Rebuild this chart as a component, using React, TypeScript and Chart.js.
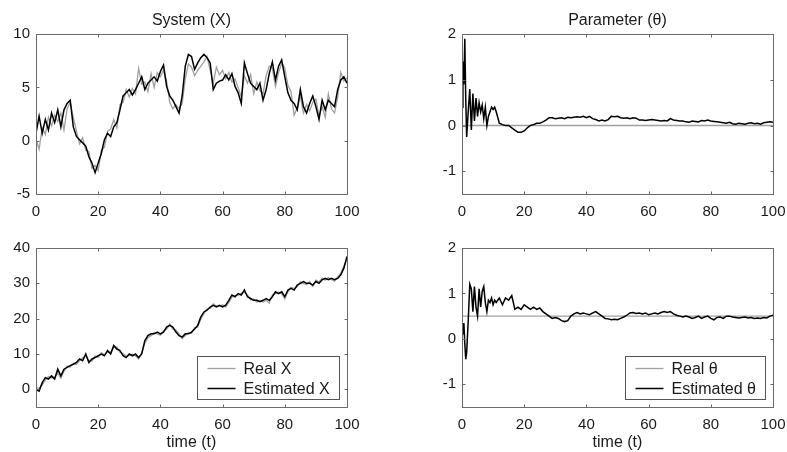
import React, { useEffect, useRef } from 'react';
import { Chart, registerables } from 'chart.js';

Chart.register(...registerables);

const FONT = "'Liberation Sans', Arial, Helvetica, sans-serif";
const TEXT = '#1a1a1a';
const REAL_COLOR = '#a0a0a0';
const EST_COLOR = '#000000';

// time axes
const timeX = Array.from({ length: 101 }, (_, i) => i);
const timeTheta = [
  0, 0.3, 0.6, 0.9, 1.2, 1.5, 2, 2.5, 3, 3.5, 4, 4.5, 5, 5.5, 6, 6.5, 7, 7.5, 8, 8.5, 9, 9.5, 10, 10.5, 11,
  ...Array.from({ length: 89 }, (_, i) => i + 12),
];
const timeRealTheta = [0, 100];

// System (X), top panel
const realX1 = [
  0.2, -0.8, 1.2, 0.6, 2.2, 1.4, 2.4, 1.8, 2.6, 1.0,
  3.0, 3.6, 2.2, 0.9, -0.3, 0.3, -0.9, -1.0, -2.6, -2.3,
  -2.8, -0.9, -0.6, 0.9, 1.1, 2.0, 1.2, 3.4, 3.6, 4.8,
  4.1, 4.9, 4.4, 6.8, 5.3, 5.5, 4.6, 6.3, 5.0, 6.4,
  6.0, 6.6, 5.6, 3.6, 3.0, 3.4, 3.0, 3.5, 5.8, 7.2,
  6.9, 6.1, 6.6, 7.0, 7.4, 7.9, 6.6, 5.4, 6.9, 6.2,
  6.6, 5.8, 6.4, 5.5, 5.8, 5.0, 4.1, 6.1, 5.4, 6.2,
  4.4, 5.5, 4.7, 4.4, 6.1, 7.0, 6.8, 5.1, 6.4, 7.3,
  6.8, 5.2, 4.6, 2.4, 3.1, 4.2, 2.6, 3.4, 2.8, 3.6,
  3.9, 2.3, 3.2, 2.2, 4.4, 3.0, 2.6, 4.1, 6.4, 5.6,
  5.9,
];
const estX1 = [
  0.7, 2.3, 0.7, 2.0, 1.0, 2.6, 1.7, 2.9, 1.3, 2.9,
  3.5, 3.8, 1.3, 0.4, 0.1, -0.2, -0.5, -1.5, -2.1, -3.0,
  -2.1, -1.2, 0.1, 0.7, 0.4, 1.3, 1.7, 2.9, 4.2, 4.5,
  4.8, 4.3, 4.8, 5.4, 6.0, 4.8, 5.4, 5.7, 6.0, 5.6,
  6.5, 7.1, 5.1, 4.2, 3.8, 3.2, 2.6, 4.2, 7.0, 8.1,
  7.9, 6.7, 7.3, 7.8, 8.1, 7.8, 7.3, 4.8, 5.4, 5.6,
  5.7, 6.2, 5.7, 6.3, 5.1, 4.5, 3.5, 7.3, 6.3, 5.4,
  5.1, 4.8, 5.4, 3.8, 4.8, 6.3, 7.4, 5.7, 7.0, 7.6,
  6.0, 4.5, 3.8, 3.5, 2.9, 4.8, 3.2, 2.6, 3.5, 4.2,
  3.2, 2.0, 3.8, 2.9, 3.8, 3.5, 3.2, 4.8, 5.7, 6.0,
  5.4,
];

// System (X), bottom panel
const realX2 = [
  0.5, 0.3, 1.2, 2.6, 3.6, 3.2, 3.5, 4.6, 3.2, 5.1,
  6.6, 6.3, 7.4, 7.0, 8.1, 8.9, 9.4, 8.2, 8.0, 9.4,
  9.1, 10.4, 9.8, 10.5, 10.6, 11.8, 12.0, 10.5, 10.1, 9.4,
  9.6, 9.9, 9.5, 8.6, 10.5, 13.1, 14.6, 15.2, 16.1, 15.7,
  15.3, 16.6, 17.0, 18.5, 17.1, 16.8, 15.7, 14.3, 15.2, 16.1,
  15.8, 17.5, 17.6, 19.9, 21.4, 22.8, 22.9, 24.2, 23.6, 23.4,
  23.9, 23.3, 24.6, 26.1, 26.6, 26.6, 27.2, 27.5, 26.7, 25.3,
  25.6, 24.7, 25.1, 24.7, 25.2, 24.4, 26.7, 27.1, 27.5, 27.0,
  25.6, 27.6, 28.9, 28.5, 29.0, 30.4, 30.0, 29.6, 30.5, 29.1,
  30.9, 30.4, 31.5, 30.9, 31.6, 31.0, 30.6, 31.9, 32.9, 34.9,
  37.0,
];
const estX2 = [
  0, -0.5, 1.9, 3.3, 2.9, 3.8, 2.9, 5.7, 3.8, 5.7,
  6.2, 6.7, 7.1, 7.6, 8.6, 8.1, 10, 7.6, 8.6, 9,
  9.5, 10, 9.5, 11, 10, 12.4, 11.4, 11, 9.5, 9,
  10, 9.5, 10, 9, 10, 13.8, 15.2, 15.7, 15.7, 16.2,
  15.7, 16.2, 17.6, 18.1, 17.6, 16.2, 15.2, 14.8, 15.7, 15.7,
  16.2, 17.1, 18.1, 20.5, 21.9, 22.4, 23.3, 23.8, 23.3, 23.8,
  23.3, 23.8, 25.2, 26.7, 26.2, 27.1, 26.7, 28.1, 26.2, 25.7,
  25.2, 25.2, 24.8, 25.2, 25.7, 25.2, 26.2, 27.6, 27.1, 27.6,
  26.2, 28.1, 28.6, 28.1, 29.5, 30, 30.5, 30, 30, 29.5,
  30.5, 30, 31, 31.4, 31, 31.4, 31, 31.4, 32.4, 34.3,
  37.6,
];

// Parameter (theta), top panel
const realTheta1 = [0, 0];
const estTheta1 = [
  0.4, 1.4, 0.9, 1.9, 0.6, -0.25, 0.3, 0.8, -0.1, 0.7, 0.1, 0.6, 0.2, 0.5, 0.3, 0.45, 0.15, 0.4, 0, 0.2, 0.3, 0.4, 0.35, 0.4, 0.3,
  0.05, 0.02, 0.0, 0.0, -0.05, -0.1, -0.15, -0.15, -0.12, -0.05,
  0.0, 0.02, 0.05, 0.05, 0.08, 0.12, 0.17, 0.17, 0.15, 0.16,
  0.17, 0.15, 0.18, 0.17, 0.18, 0.19, 0.18, 0.2, 0.17, 0.2,
  0.15, 0.13, 0.1, 0.12, 0.1, 0.13, 0.2, 0.19, 0.2, 0.17,
  0.16, 0.17, 0.15, 0.17, 0.16, 0.12, 0.12, 0.11, 0.12, 0.13,
  0.12, 0.11, 0.1, 0.11, 0.1, 0.15, 0.12, 0.11, 0.1, 0.1,
  0.08, 0.07, 0.1, 0.09, 0.08, 0.11, 0.1, 0.12, 0.1, 0.09,
  0.08, 0.07, 0.06, 0.05, 0.07, 0.04, 0.03, 0.05, 0.04, 0.03,
  0.05, 0.06, 0.04, 0.05, 0.03, 0.06, 0.07, 0.08, 0.07,
];

// Parameter (theta), bottom panel
const realTheta2 = [0.5, 0.5];
const estTheta2 = [
  0.3, 0.1, 0.35, -0.1, -0.45, -0.3, 0.4, 1.2, 1.1, 0.6, 1.15, 0.7, 0.5, 1.1, 0.7, 1.05, 1.15, 0.8, 0.6, 0.85, 0.8, 0.9, 0.75, 0.85, 0.8,
  0.9, 0.75, 0.9, 0.85, 0.95, 0.65, 0.7, 0.65, 0.75, 0.7,
  0.65, 0.7, 0.65, 0.68, 0.6, 0.55, 0.5, 0.45, 0.47, 0.45,
  0.4, 0.38, 0.4, 0.5, 0.55, 0.58, 0.55, 0.57, 0.55, 0.53,
  0.57, 0.6, 0.55, 0.5, 0.45, 0.44, 0.42, 0.43, 0.42, 0.45,
  0.48, 0.52, 0.57, 0.58, 0.56, 0.57, 0.55, 0.57, 0.53, 0.55,
  0.57, 0.55, 0.58, 0.6, 0.58, 0.6, 0.55, 0.52, 0.5, 0.48,
  0.5, 0.48, 0.45, 0.47, 0.5, 0.45, 0.48, 0.5, 0.45, 0.42,
  0.47, 0.48, 0.45, 0.5, 0.5, 0.48, 0.47, 0.46, 0.47, 0.48,
  0.46, 0.47, 0.45, 0.46, 0.45, 0.47, 0.46, 0.5, 0.52,
];

const framePlugin = {
  id: 'frameTicks',
  afterDatasetsDraw(chart: any) {
    const { ctx, chartArea: a, scales } = chart;
    ctx.save();
    ctx.strokeStyle = '#6a6a6a';
    ctx.lineWidth = 1;
    const L = Math.round(a.left) + 0.5;
    const R = Math.round(a.right) + 0.5;
    const T = Math.round(a.top) + 0.5;
    const B = Math.round(a.bottom) + 0.5;
    ctx.strokeRect(L, T, R - L, B - T);
    const len = 3;
    ctx.beginPath();
    scales.x.ticks.forEach((t: any) => {
      const px = Math.round(scales.x.getPixelForValue(t.value)) + 0.5;
      ctx.moveTo(px, B); ctx.lineTo(px, B - len);
      ctx.moveTo(px, T); ctx.lineTo(px, T + len);
    });
    scales.y.ticks.forEach((t: any) => {
      const py = Math.round(scales.y.getPixelForValue(t.value)) + 0.5;
      ctx.moveTo(L, py); ctx.lineTo(L + len, py);
      ctx.moveTo(R, py); ctx.lineTo(R - len, py);
    });
    ctx.stroke();
    ctx.restore();
  },
};

const boxLegendPlugin = {
  id: 'boxLegend',
  afterDraw(chart: any, _args: any, opts: any) {
    if (!opts || !opts.show) return;
    const { ctx, chartArea: a } = chart;
    const ds = chart.data.datasets;
    ctx.save();
    ctx.font = `16px ${FONT}`;
    const textW = Math.max(...ds.map((d: any) => ctx.measureText(d.label).width));
    const w = Math.round(10 + 28 + 8 + textW + 10);
    const h = 43;
    const x = Math.round(a.right - 8 - w) + 0.5;
    const y = Math.round(a.bottom - 8 - h) + 0.5;
    ctx.fillStyle = '#ffffff';
    ctx.fillRect(x, y, w, h);
    ctx.strokeStyle = '#555555';
    ctx.lineWidth = 1;
    ctx.strokeRect(x, y, w, h);
    ds.forEach((d: any, i: number) => {
      const cy = y + 12 + i * 20;
      ctx.strokeStyle = d.borderColor;
      ctx.lineWidth = d.borderWidth;
      ctx.beginPath();
      ctx.moveTo(x + 10, cy);
      ctx.lineTo(x + 38, cy);
      ctx.stroke();
      ctx.fillStyle = TEXT;
      ctx.textBaseline = 'middle';
      ctx.textAlign = 'left';
      ctx.fillText(d.label, x + 46, cy + 1);
    });
    ctx.restore();
  },
};

type PanelDef = {
  left: number; top: number; w: number; h: number;
  yW: number; xH: number; padTop: number;
  title?: string; xTitle?: string; legend: boolean;
  yMin: number; yMax: number; yStep: number;
  realT: number[]; real: number[]; realLabel: string;
  estT: number[]; est: number[]; estLabel: string;
};

const panels: PanelDef[] = [
  {
    left: 0, top: 0, w: 383, h: 226, yW: 36, xH: 32, padTop: 0,
    title: 'System (X)', legend: false, yMin: -5, yMax: 10, yStep: 5,
    realT: timeX, real: realX1, realLabel: 'Real X',
    estT: timeX, est: estX1, estLabel: 'Estimated X',
  },
  {
    left: 440, top: 0, w: 355, h: 226, yW: 22, xH: 32, padTop: 0,
    title: 'Parameter (θ)', legend: false, yMin: -1.5, yMax: 2, yStep: 1,
    realT: timeRealTheta, real: realTheta1, realLabel: 'Real θ',
    estT: timeTheta, est: estTheta1, estLabel: 'Estimated θ',
  },
  {
    left: 0, top: 226, w: 383, h: 226, yW: 36, xH: 45, padTop: 22,
    xTitle: 'time (t)', legend: true, yMin: -5, yMax: 40, yStep: 10,
    realT: timeX, real: realX2, realLabel: 'Real X',
    estT: timeX, est: estX2, estLabel: 'Estimated X',
  },
  {
    left: 440, top: 226, w: 355, h: 226, yW: 22, xH: 45, padTop: 22,
    xTitle: 'time (t)', legend: true, yMin: -1.5, yMax: 2, yStep: 1,
    realT: timeRealTheta, real: realTheta2, realLabel: 'Real θ',
    estT: timeTheta, est: estTheta2, estLabel: 'Estimated θ',
  },
];

function makeConfig(p: PanelDef): any {
  const tickFont = { family: FONT, size: 15 };
  const labelFont = { family: FONT, size: 16, weight: 'normal' };
  return {
    type: 'line',
    data: {
      datasets: [
        {
          label: p.realLabel,
          data: p.realT.map((t, i) => ({ x: t, y: p.real[i] })),
          borderColor: REAL_COLOR,
          borderWidth: 1.3,
          pointRadius: 0,
          tension: 0,
          order: 1,
        },
        {
          label: p.estLabel,
          data: p.estT.map((t, i) => ({ x: t, y: p.est[i] })),
          borderColor: EST_COLOR,
          borderWidth: 1.5,
          pointRadius: 0,
          tension: 0,
          order: 0,
        },
      ],
    },
    options: {
      responsive: false,
      animation: false,
      devicePixelRatio: 1,
      layout: { padding: { top: p.padTop, left: 0, right: 0, bottom: 0 } },
      plugins: {
        legend: { display: false },
        tooltip: { enabled: false },
        title: p.title
          ? { display: true, text: p.title, color: TEXT, font: labelFont, padding: { top: 11, bottom: 4 } }
          : { display: false },
        boxLegend: { show: p.legend },
      },
      scales: {
        x: {
          type: 'linear',
          min: 0,
          max: 100,
          afterFit: (s: any) => { s.height = p.xH; },
          grid: { display: false, drawTicks: false },
          border: { display: false },
          ticks: { stepSize: 20, autoSkip: false, maxRotation: 0, padding: 9, font: tickFont, color: TEXT },
          title: p.xTitle
            ? { display: true, text: p.xTitle, color: TEXT, font: labelFont, padding: { top: 0, bottom: 0 } }
            : { display: false },
        },
        y: {
          type: 'linear',
          position: 'left',
          min: p.yMin,
          max: p.yMax,
          afterFit: (s: any) => { s.width = p.yW; },
          grid: { display: false, drawTicks: false },
          border: { display: false },
          ticks: { stepSize: p.yStep, includeBounds: false, autoSkip: false, padding: 6, font: tickFont, color: TEXT },
        },
        yR: {
          type: 'linear',
          position: 'right',
          afterFit: (s: any) => { s.width = p.yW; },
          grid: { display: false, drawTicks: false },
          border: { display: false },
          ticks: { display: false },
        },
      },
    },
    plugins: [framePlugin, boxLegendPlugin],
  };
}

function Panel({ p }: { p: PanelDef }) {
  const ref = useRef<HTMLCanvasElement | null>(null);
  useEffect(() => {
    if (!ref.current) return;
    const chart = new Chart(ref.current, makeConfig(p));
    return () => chart.destroy();
  }, [p]);
  return (
    <canvas
      ref={ref}
      width={p.w}
      height={p.h}
      style={{ position: 'absolute', left: p.left, top: p.top, width: p.w, height: p.h }}
    />
  );
}

export default function App() {
  return (
    <div
      style={{
        position: 'fixed',
        left: 0,
        top: 0,
        width: 787,
        height: 452,
        overflow: 'hidden',
        background: '#ffffff',
      }}
    >
      {panels.map((p, i) => (
        <Panel key={i} p={p} />
      ))}
    </div>
  );
}
